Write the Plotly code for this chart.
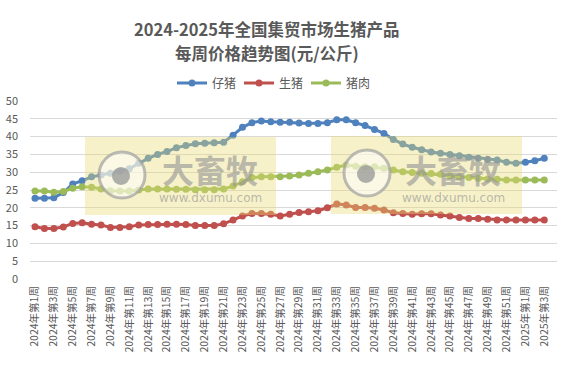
import plotly.graph_objects as go

weeks = [f"2024年第{i}周" for i in range(1, 53)] + [f"2025年第{i}周" for i in range(1, 4)]

piglet = [22.7, 22.7, 22.8, 24.3, 26.7, 27.6, 28.7, 29.2, 29.7, 30.3,
          31.0, 32.5, 33.9, 35.0, 35.8, 36.9, 37.5, 38.0, 38.1, 38.3,
          38.4, 40.4, 42.6, 43.9, 44.4, 44.2, 44.0, 44.0, 43.8, 43.7,
          43.7, 43.9, 44.7, 44.7, 43.9, 43.1, 42.0, 40.9, 39.2, 37.9,
          37.0, 36.3, 35.7, 35.3, 35.0, 34.6, 34.2, 33.9, 33.6, 33.4,
          32.8, 32.5, 32.8, 33.2, 33.9]
hog = [14.7, 14.2, 14.2, 14.6, 15.6, 15.8, 15.4, 15.2, 14.5, 14.5,
       14.7, 15.2, 15.3, 15.3, 15.4, 15.4, 15.3, 15.0, 15.0, 15.0,
       15.5, 16.6, 17.7, 18.4, 18.4, 18.2, 17.7, 18.2, 18.7, 18.9,
       19.2, 20.0, 21.1, 20.8, 20.1, 20.1, 19.9, 19.4, 18.6, 18.4,
       18.2, 18.3, 18.3, 18.0, 17.7, 17.3, 17.0, 17.0, 16.8, 16.6,
       16.6, 16.6, 16.6, 16.6, 16.6]
pork = [24.7, 24.7, 24.4, 24.6, 25.5, 25.9, 25.8, 25.3, 24.8, 24.7,
        24.7, 25.0, 25.3, 25.3, 25.3, 25.2, 25.2, 25.1, 25.1, 25.1,
        25.3, 26.1, 27.3, 28.5, 28.7, 28.7, 28.7, 28.9, 29.2, 29.7,
        30.1, 30.6, 31.4, 32.0, 31.7, 31.5, 31.5, 31.1, 30.6, 30.1,
        29.9, 29.7, 29.6, 29.4, 29.0, 28.7, 28.5, 28.3, 28.1, 28.0,
        27.8, 27.8, 27.8, 27.8, 27.8]

series_names = ["仔猪", "生猪", "猪肉"]
series_colors = ["#4f81bd", "#c0504d", "#9bbb59"]
title_lines = ["2024-2025年全国集贸市场生猪产品", "每周价格趋势图(元/公斤)"]

W, H = 568, 366
L, R, T, B = 30, 11, 101, 87
pw, ph = W - L - R, H - T - B

def px(x):
    return (x - L) / pw

def py(y):
    return (H - B - y) / ph

fig = go.Figure()
for name, vals, col in zip(series_names, [piglet, hog, pork], series_colors):
    fig.add_trace(go.Scatter(
        x=weeks, y=vals, name=name, mode="lines+markers",
        line=dict(color=col, width=3),
        marker=dict(color=col, size=7, symbol="circle"),
    ))

shapes = []
annotations = []
for (rx0, rx1, ry0, ry1, cx, cy, tx) in [(85, 276, 137, 215, 122, 175, 210),
                                        (331, 522, 136, 214, 367, 173, 453)]:
    shapes.append(dict(type="rect", xref="paper", yref="paper",
                       x0=px(rx0), x1=px(rx1), y0=py(ry1), y1=py(ry0),
                       fillcolor="rgba(232,218,110,0.38)", line=dict(width=0), layer="above"))
    shapes.append(dict(type="circle", xref="paper", yref="paper",
                       x0=px(cx - 23), x1=px(cx + 23), y0=py(cy + 23), y1=py(cy - 23),
                       fillcolor="rgba(255,255,255,0.55)",
                       line=dict(color="rgba(160,160,160,0.7)", width=3), layer="above"))
    shapes.append(dict(type="circle", xref="paper", yref="paper",
                       x0=px(cx - 10), x1=px(cx + 8), y0=py(cy + 10), y1=py(cy - 8),
                       fillcolor="rgba(150,150,150,0.75)", line=dict(width=0), layer="above"))
    annotations.append(dict(x=px(tx), y=py(169), xref="paper", yref="paper",
                            text="<b>大畜牧</b>", showarrow=False,
                            font=dict(size=32, color="rgba(150,150,150,0.65)",
                                      family="Noto Sans CJK SC"),
                            xanchor="center", yanchor="middle"))
    annotations.append(dict(x=px(tx), y=py(198), xref="paper", yref="paper",
                            text="www.dxumu.com", showarrow=False,
                            font=dict(size=12, color="rgba(150,150,150,0.65)",
                                      family="DejaVu Sans"),
                            xanchor="center", yanchor="middle"))

for line_text, ly in zip(title_lines, [29, 53]):
    annotations.append(dict(x=px(267), y=py(ly), xref="paper", yref="paper",
                            text=f"<b>{line_text}</b>", showarrow=False,
                            font=dict(size=16.5, color="#595959", family="Noto Sans CJK SC"),
                            xanchor="center", yanchor="middle"))

fig.update_layout(
    width=W, height=H,
    margin=dict(l=L, r=R, t=T, b=B, autoexpand=False),
    paper_bgcolor="white", plot_bgcolor="white",
    font=dict(family="Noto Sans CJK SC", color="#595959"),
    legend=dict(orientation="h", x=px(172), xanchor="left", y=py(83), yanchor="middle",
                font=dict(size=12, color="#595959"), itemwidth=30,
                entrywidth=22, entrywidthmode="pixels"),
    xaxis=dict(type="category", categoryorder="array", categoryarray=weeks,
               range=[-0.53, 55.35], showgrid=False, zeroline=False, automargin=False,
               tickmode="array", tickvals=weeks[::2], ticktext=weeks[::2],
               tickangle=-90, tickfont=dict(size=10.5, color="#595959"),
               showline=False, ticks="", ticklabelstandoff=4),
    yaxis=dict(range=[0, 50], dtick=5, showgrid=True, gridcolor="#d9d9d9", gridwidth=1,
               zeroline=False, showline=False, ticks="", automargin=False,
               tickfont=dict(size=11, color="#595959"), ticklabelstandoff=11),
    shapes=shapes,
    annotations=annotations,
    showlegend=True,
)

fig.write_html("out.html", config={"displayModeBar": False},
               post_script="document.body.style.margin='0';document.body.style.padding='0';")
